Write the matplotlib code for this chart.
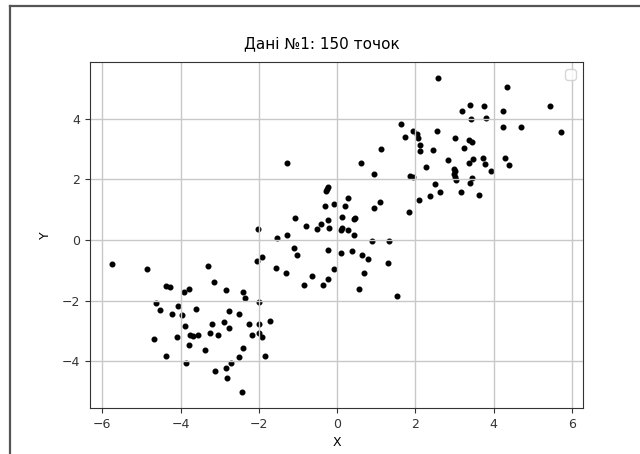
import matplotlib
matplotlib.use('Agg')
import matplotlib.pyplot as plt
from matplotlib.lines import Line2D

# три хмари точок
x_low = [-5.74, -4.86, -4.38, -4.28, -3.29, -3.14, -3.92, -3.78, -2.85, -2.40,
         -2.36, -2.05, -1.92, -4.63, -4.53, -4.21, -4.07, -3.97, -3.60, -3.89,
         -4.08, -4.67, -3.76, -3.69, -3.55, -3.78, -4.36, -3.85, -3.37, -3.24,
         -3.19, -3.03, -2.88, -2.76, -2.75, -2.51, -2.24, -2.17, -2.00, -1.99,
         -1.99, -1.91, -2.40, -2.51, -2.71, -2.83, -3.12, -2.80, -2.42, -1.85,
         -1.71, -2.02]
y_low = [-0.79, -0.95, -1.51, -1.54, -0.85, -1.40, -1.70, -1.62, -1.65, -1.70,
         -1.91, -0.68, -0.55, -2.07, -2.31, -2.43, -2.19, -2.48, -2.27, -2.82,
         -3.19, -3.27, -3.14, -3.18, -3.14, -3.46, -3.81, -4.04, -3.62, -3.08,
         -2.76, -3.14, -2.69, -2.91, -2.35, -2.43, -2.76, -3.14, -2.03, -2.76,
         -3.05, -3.20, -3.56, -3.87, -4.04, -4.22, -4.31, -4.54, -5.02, -3.81,
         -2.66, 0.35]

x_mid = [-1.27, 1.11, 0.61, 0.94, -0.24, -0.27, -0.29, 0.29, -0.08, 0.19,
         -0.30, 1.09, 0.94, -1.08, 0.13, 0.45, 0.42, -0.24, -0.42, -0.80,
         -0.51, -0.21, 0.13, 0.09, 0.28, 0.42, -1.27, -1.53, 0.88, 1.32,
         -1.10, -1.02, -0.24, 0.10, 0.38, 0.64, 0.78, 1.30, -1.57, -1.30,
         -0.08, -0.65, -0.22, -0.84, -0.35, 0.68, 0.57, 1.53]
y_mid = [2.55, 2.99, 2.55, 2.17, 1.76, 1.67, 1.62, 1.39, 1.20, 1.11,
         1.11, 1.24, 1.04, 0.73, 0.75, 0.73, 0.68, 0.66, 0.52, 0.45,
         0.35, 0.40, 0.41, 0.32, 0.32, 0.18, 0.16, 0.08, -0.02, -0.02,
         -0.27, -0.48, -0.34, -0.43, -0.37, -0.48, -0.62, -0.75, -0.93, -1.10,
         -0.97, -1.20, -1.28, -1.48, -1.48, -1.10, -1.60, -1.83]

x_high = [1.86, 1.93, 2.08, 1.84, 2.59, 4.34, 3.18, 3.40, 3.75, 4.23,
          5.44, 3.41, 3.80, 4.25, 4.69, 5.71, 1.63, 1.74, 1.94, 2.04,
          2.07, 2.11, 2.13, 2.54, 3.00, 3.38, 3.44, 3.25, 2.45, 2.83,
          3.46, 3.36, 3.74, 3.77, 3.93, 4.28, 4.39, 2.27, 2.98, 2.99,
          3.00, 3.03, 3.45, 3.40, 2.49, 2.63, 2.37, 3.16, 3.63, 3.01]
y_high = [2.11, 2.08, 1.33, 0.91, 5.35, 5.05, 4.25, 4.45, 4.42, 4.25,
          4.42, 4.00, 4.03, 3.71, 3.71, 3.56, 3.81, 3.39, 3.59, 3.50,
          3.36, 3.13, 2.92, 3.61, 3.36, 3.30, 3.24, 3.04, 2.97, 2.65,
          2.66, 2.53, 2.72, 2.50, 2.28, 2.69, 2.46, 2.40, 2.34, 2.19,
          2.09, 1.98, 2.03, 1.89, 1.86, 1.58, 1.44, 1.57, 1.50, 2.27]

X = x_low + x_mid + x_high
Y = y_low + y_mid + y_high

fig = plt.figure(figsize=(6.4, 4.54), dpi=100)
ax = fig.add_axes([90 / 640, 46 / 454, 493 / 640, 346 / 454])

ax.scatter(X, Y, s=11, c='black')
ax.set_title('Дані №1: {} точок'.format(len(X)), fontsize=11, pad=10, x=0.47)
ax.set_xlabel('X', fontsize=9)
ax.set_ylabel('Y', fontsize=9, labelpad=7)
ax.tick_params(labelsize=9, colors='#333333')
ax.grid(True, color='#c8c8c8', linewidth=1.0)
ax.legend(handles=[], loc='upper right')
for sp in ax.spines.values():
    sp.set_color('#333333')

# рамка навколо
fig.add_artist(Line2D([10 / 640, 10 / 640], [0, 1 - 6 / 454], color='#555555', lw=1.6))
fig.add_artist(Line2D([10 / 640, 1], [1 - 6 / 454, 1 - 6 / 454], color='#555555', lw=1.6))

plt.savefig('out.png', dpi=100)
plt.close()
